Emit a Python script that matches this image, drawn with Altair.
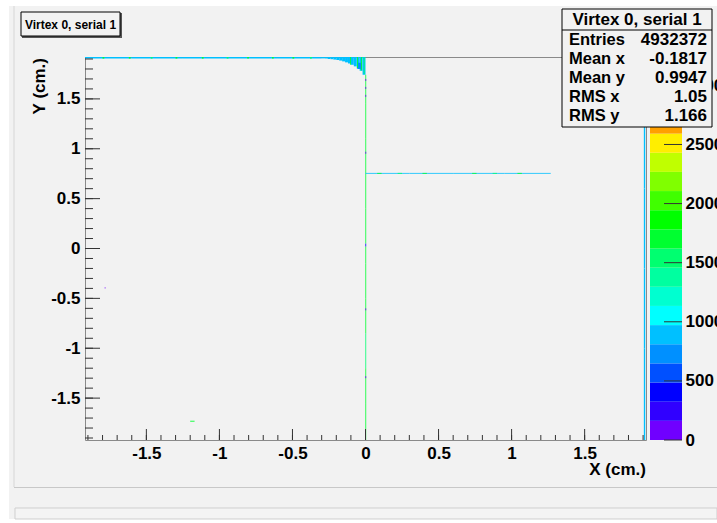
import altair as alt
import pandas as pd

FONT = "Liberation Sans"

# axis ranges (cm) and colour range (entries per bin)
X_RANGE = [-1.92, 1.92]
Y_RANGE = [-1.92, 1.92]
Z_MAX = 3240
N_LEVELS = 20

# 20-level rainbow palette, lowest level first
palette = ["#7000ff", "#3000ff", "#0000ff", "#0050ff", "#0090ff", "#00c0ff",
           "#00ffff", "#00ffd0", "#00ffa0", "#00ff70", "#00ff30", "#00ff00",
           "#40ff00", "#80ff00", "#c0ff00", "#ffee00", "#ffa000", "#ff7000",
           "#ff4000", "#ff0000"]

# ridge along the upper edge of the sensor
ridge_y = [1.904, 1.92]
ridge_x_edges = [-1.92, -1.60, -1.25, -0.90, -0.60, -0.30]
ridge_counts = [880, 900, 870, 910, 890]
ridge_fleck_x = [-1.80, -1.62, -1.47, -1.30, -1.12, -0.95, -0.81, -0.64, -0.50, -0.38]
ridge_fleck_counts = [1650, 1700, 1600, 1750, 1650, 1600, 1700, 1650, 1750, 1600]

# lobe in the corner next to x = 0 (columns and their lower edge)
lobe_x_edges = [-0.30, -0.28, -0.26, -0.24, -0.22, -0.20, -0.18, -0.16,
                -0.14, -0.12, -0.10, -0.08, -0.06, -0.04, -0.02, 0.0]
lobe_low = [1.906, 1.905, 1.90, 1.898, 1.894, 1.89, 1.884, 1.876,
            1.866, 1.855, 1.842, 1.826, 1.806, 1.782, 1.742]
lobe_counts = [880, 900, 920, 890, 900, 910, 880, 900,
               870, 900, 890, 880, 900, 880, 900]
lobe_patch = {"x": [-0.056, -0.024], "y": [1.80, 1.862], "count": 690}
streak_x = [-0.105, -0.058, -0.031, -0.012]
streak_low = [1.842, 1.81, 1.785, 1.75]
streak_counts = [1700, 1650, 1750, 1600]

# single-bin-wide strips, drawn as thin lines through their bin centre
# vertical strip at x = 0
spine_x = 0.0015
spine_y_edges = [-1.92, -1.55, -1.20, -0.85, -0.50, -0.15, 0.02, 0.05,
                 0.40, 0.75, 1.10, 1.45, 1.742]
spine_counts = [1650, 1700, 1600, 1680, 1720, 1640, 420, 1660,
                1700, 1620, 1680, 1650]
spine_dot_y = [-1.30, -0.62, 0.95, 1.52, 1.60, 1.68]
spine_dot_counts = [90, 80, 100, 90, 80, 95]

# horizontal strip at y = 0.75
arm_y = 0.753
arm_x_edges = [0.0, 0.30, 0.60, 0.95, 1.268]
arm_counts = [900, 880, 910, 890]
arm_fleck_x = [0.08, 0.22, 0.39, 0.73, 0.87, 1.04]
arm_fleck_counts = [1650, 1600, 1700, 1650, 1600, 1700]

# strip along the right edge
edge_x = 1.910
edge_y_edges = [-1.92, -1.0, -0.2, 0.6, 1.92]
edge_counts = [900, 880, 910, 890]

# isolated hits
speck_x = [[-1.20, -1.17], [-1.785, -1.780]]
speck_y = [[-1.736, -1.727], [-0.402, -0.388]]
speck_counts = [1700, 90]

# statistics box
stats_title = "Virtex 0, serial 1"
stats_labels = ["Entries", "Mean x", "Mean y", "RMS x", "RMS y"]
stats_values = ["4932372", "-0.1817", "0.9947", "1.05", "1.166"]

x_major = [-1.5, -1.0, -0.5, 0.0, 0.5, 1.0, 1.5]
y_major = [-1.5, -1.0, -0.5, 0.0, 0.5, 1.0, 1.5]
z_ticks = [0, 500, 1000, 1500, 2000, 2500, 3000]

# ---- build the cell tables ----
cells = []
strips = []


def add(x0, x1, y0, y1, c):
    cells.append({"x0": x0, "x1": x1, "y0": y0, "y1": y1, "count": c})


def add_strip(x0, x1, y0, y1, c, w):
    strips.append({"x0": x0, "x1": x1, "y0": y0, "y1": y1, "count": c, "w": w})


for i, c in enumerate(ridge_counts):
    add(ridge_x_edges[i], ridge_x_edges[i + 1], ridge_y[0], ridge_y[1], c)
for xf, c in zip(ridge_fleck_x, ridge_fleck_counts):
    add(xf, xf + 0.012, ridge_y[0], ridge_y[1], c)
for i, c in enumerate(lobe_counts):
    add(lobe_x_edges[i], lobe_x_edges[i + 1], lobe_low[i], Y_RANGE[1], c)
add(lobe_patch["x"][0], lobe_patch["x"][1], lobe_patch["y"][0], lobe_patch["y"][1], lobe_patch["count"])
for xs_, lo, c in zip(streak_x, streak_low, streak_counts):
    add(xs_, xs_ + 0.006, lo, Y_RANGE[1], c)
for sx, sy, c in zip(speck_x, speck_y, speck_counts):
    add(sx[0], sx[1], sy[0], sy[1], c)

for i, c in enumerate(spine_counts):
    add_strip(spine_x, spine_x, spine_y_edges[i], spine_y_edges[i + 1], c, 0.8)
for yd, c in zip(spine_dot_y, spine_dot_counts):
    add_strip(spine_x, spine_x, yd, yd + 0.02, c, 0.8)
for i, c in enumerate(arm_counts):
    add_strip(arm_x_edges[i], arm_x_edges[i + 1], arm_y, arm_y, c, 0.8)
for xf, c in zip(arm_fleck_x, arm_fleck_counts):
    add_strip(xf, xf + 0.03, arm_y, arm_y, c, 0.8)
for i, c in enumerate(edge_counts):
    add_strip(edge_x, edge_x, edge_y_edges[i], edge_y_edges[i + 1], c, 1.4)

cells_df = pd.DataFrame(cells)
strips_df = pd.DataFrame(strips)

W, H = 561, 383

xs = alt.Scale(domain=X_RANGE, nice=False, zero=False)
ys = alt.Scale(domain=Y_RANGE, nice=False, zero=False)
zs = alt.Scale(type="quantize", domain=[0, Z_MAX], range=palette, nice=False, zero=True)

label_style = dict(labelFont=FONT, labelFontSize=17, labelFontWeight="bold",
                   labelColor="black", ticks=False, domain=False, grid=False,
                   title=None, labelExpr="datum.value + ''", zindex=1)

heat = alt.Chart(cells_df).mark_rect(strokeWidth=0).encode(
    x=alt.X("x0:Q", scale=xs, axis=alt.Axis(values=x_major, labelPadding=5, **label_style)),
    x2="x1:Q",
    y=alt.Y("y0:Q", scale=ys, axis=alt.Axis(values=y_major, labelPadding=5, **label_style)),
    y2="y1:Q",
    color=alt.Color("count:Q", scale=zs, legend=None),
)

strip_lines = alt.Chart(strips_df).mark_rule().encode(
    x=alt.X("x0:Q", scale=xs),
    x2="x1:Q",
    y=alt.Y("y0:Q", scale=ys),
    y2="y1:Q",
    color=alt.Color("count:Q", scale=zs, legend=None),
    strokeWidth=alt.StrokeWidth("w:Q", scale=None),
)

# tick marks drawn inside the frame
x_minor = [round(-1.9 + 0.1 * i, 1) for i in range(39)]
y_minor = [round(-1.9 + 0.1 * i, 1) for i in range(39)]
tick_color = "#333333"

x_min_ticks = alt.Chart(pd.DataFrame({"v": x_minor})).mark_rule(color=tick_color, strokeWidth=1).encode(
    x=alt.X("v:Q", scale=xs), y=alt.value(H), y2=alt.value(H - 5))
x_maj_ticks = alt.Chart(pd.DataFrame({"v": x_major})).mark_rule(color=tick_color, strokeWidth=1).encode(
    x=alt.X("v:Q", scale=xs), y=alt.value(H), y2=alt.value(H - 11))
y_min_ticks = alt.Chart(pd.DataFrame({"v": y_minor})).mark_rule(color=tick_color, strokeWidth=1).encode(
    y=alt.Y("v:Q", scale=ys), x=alt.value(0), x2=alt.value(8))
y_maj_ticks = alt.Chart(pd.DataFrame({"v": y_major})).mark_rule(color=tick_color, strokeWidth=1).encode(
    y=alt.Y("v:Q", scale=ys), x=alt.value(0), x2=alt.value(15))

main = alt.layer(heat, strip_lines, x_min_ticks, x_maj_ticks, y_min_ticks, y_maj_ticks)

# ---- colour bar ----
band = Z_MAX / N_LEVELS
cbar_df = pd.DataFrame({
    "lo": [i * band for i in range(N_LEVELS)],
    "hi": [(i + 1) * band for i in range(N_LEVELS)],
    "col": palette,
})
cz = alt.Scale(domain=[0, Z_MAX], nice=False, zero=True)
cbar_rect = alt.Chart(cbar_df).mark_rect().encode(
    y=alt.Y("lo:Q", scale=cz, axis=alt.Axis(
        orient="right", values=z_ticks, offset=36, labelPadding=3,
        labelFont=FONT, labelFontSize=17, labelFontWeight="bold", labelColor="black",
        ticks=False, domain=False, grid=False, title=None,
        labelExpr="datum.value + ''", zindex=0)),
    y2="hi:Q",
    x=alt.value(565), x2=alt.value(597),
    color=alt.Color("col:N", scale=None),
)
cbar_ticks = alt.Chart(pd.DataFrame({"z": z_ticks})).mark_rule(color=tick_color).encode(
    y=alt.Y("z:Q", scale=cz), x=alt.value(579), x2=alt.value(597))
cbar = alt.layer(cbar_rect, cbar_ticks)

# ---- canvas decorations, titles and statistics box ----
one = pd.DataFrame({"k": [0]})


def box(x0, x1, y0, y1, **kw):
    return alt.Chart(one).mark_rect(**kw).encode(
        x=alt.value(x0), x2=alt.value(x1), y=alt.value(y0), y2=alt.value(y1))


def line(x0, x1, y0, y1, color):
    return alt.Chart(one).mark_rule(color=color, strokeWidth=1).encode(
        x=alt.value(x0), x2=alt.value(x1), y=alt.value(y0), y2=alt.value(y1))


def label(txt, x, y, size, align="left", baseline="middle", angle=0):
    kw = dict(text=txt, font=FONT, fontSize=size, fontWeight="bold", color="black",
              align=align, baseline=baseline)
    if angle:
        kw["angle"] = angle
    return alt.Chart(one).mark_text(**kw).encode(x=alt.value(x), y=alt.value(y))


deco = [
    box(-85, 632, -57, -51, color="white"),
    box(-85, -76, -57, 466, color="white"),
    box(-85, 632, 462, 466, color="white"),
    line(-71, -71, -51, 430, "#d6d6d6"),
    line(-71, 632, 430.5, 430.5, "#c8c8c8"),
    box(-70, 632, 451, 462, color="#f4f4f4", stroke="#cfcfcf", strokeWidth=1),
    label("X (cm.)", W, 418, 17, align="right", baseline="alphabetic"),
    label("Y (cm.)", -40, 1, 17, align="right", baseline="alphabetic", angle=270),
    # title pave
    box(-63, 37, -44, -19, color="#555555"),
    box(-64, 35, -45, -21, color="#f2f2f2", stroke="black", strokeWidth=1),
    label(stats_title, -14.5, -32.5, 12, align="center"),
    # statistics pave
    box(477, 627, -48, 70, color="#f2f2f2", stroke="black", strokeWidth=1),
    line(477, 627, -27, -27, "black"),
    label(stats_title, 552, -37, 17, align="center"),
]
for i, (lab, val) in enumerate(zip(stats_labels, stats_values)):
    yy = -17 + 19 * i
    deco.append(label(lab, 484, yy, 16.5))
    deco.append(label(val, 622, yy, 17, align="right"))

annot = alt.layer(*deco)

chart = alt.layer(main, cbar, annot).resolve_scale(y="independent").properties(
    width=W, height=H,
    padding={"left": 85, "top": 57, "right": 71, "bottom": 83},
    autosize=alt.AutoSizeParams(type="none"),
    background="#f2f2f2",
).configure_view(stroke="#8a8a8a", strokeWidth=1, fill="#f2f2f2")

chart.save("out.html", embed_options={"renderer": "svg", "actions": False})
